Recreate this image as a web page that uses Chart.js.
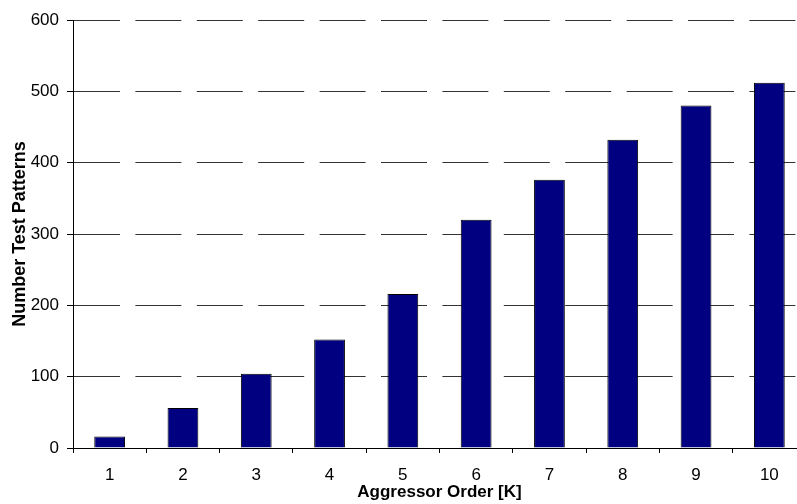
<!DOCTYPE html>
<html>
<head>
<meta charset="utf-8">
<script src="https://cdn.jsdelivr.net/npm/chart.js@4/dist/chart.umd.min.js"></script>
<style>
  html, body { margin: 0; padding: 0; background: #fff; overflow: hidden; }
  #wrap { width: 797px; height: 504px; overflow: hidden; }
</style>
</head>
<body>
<div id="wrap"><canvas id="myChart" width="806" height="504"></canvas></div>
<script>
const categories = ["1", "2", "3", "4", "5", "6", "7", "8", "9", "10"];
const patterns = [16, 56, 104, 152, 216, 320, 376, 432, 480, 512];
const yTicks = [0, 100, 200, 300, 400, 500, 600];

const tickFont = { family: "'Liberation Sans', Arial, sans-serif", size: 17 };
const titleFont = { family: "'Liberation Sans', Arial, sans-serif", size: 17, weight: "bold" };

new Chart("myChart", {
  type: "bar",
  data: {
    labels: categories,
    datasets: [{
      data: patterns,
      backgroundColor: "#000080",
      borderColor: "#000000",
      borderWidth: 1,
      barPercentage: 0.42,
      categoryPercentage: 1
    }]
  },
  options: {
    responsive: false,
    animation: false,
    devicePixelRatio: 1,
    layout: { padding: { top: 20, left: 0, right: 0, bottom: 0 } },
    plugins: {
      legend: { display: false },
      tooltip: { enabled: false }
    },
    scales: {
      x: {
        offset: true,
        grid: {
          offset: true,
          drawOnChartArea: false,
          drawTicks: true,
          tickLength: 5,
          tickColor: "#000"
        },
        border: { display: true, color: "#000", width: 1 },
        ticks: { color: "#000", font: tickFont, padding: 12, maxRotation: 0 },
        title: {
          display: true,
          text: "Aggressor Order [K]",
          color: "#000",
          font: titleFont,
          padding: { top: 0, bottom: 1 }
        },
        afterFit: function (scale) { scale.height = 56; }
      },
      y: {
        min: 0,
        max: 600,
        afterBuildTicks: function (scale) {
          scale.ticks = yTicks.map(v => ({ value: v }));
        },
        grid: {
          color: "#333",
          lineWidth: 1,
          tickLength: 6,
          tickColor: "#000",
          tickBorderDash: []
        },
        border: { display: true, color: "#000", width: 1, dash: [46, 15.4] },
        ticks: { color: "#000", font: tickFont, padding: 8 },
        title: {
          display: true,
          text: "Number Test Patterns",
          color: "#000",
          font: { family: "'Liberation Sans', Arial, sans-serif", size: 18, weight: "bold" },
          padding: { top: 9, bottom: 0 }
        },
        afterFit: function (scale) { scale.width = 73; }
      }
    }
  }
});
</script>
</body>
</html>
